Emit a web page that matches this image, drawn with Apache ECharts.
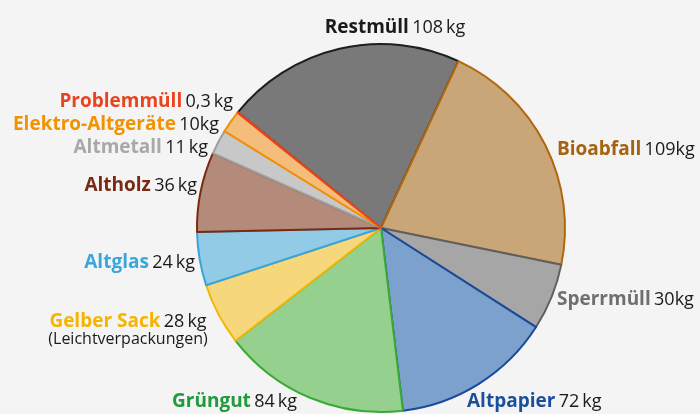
<!DOCTYPE html>
<html lang="de">
<head>
    <meta charset="UTF-8">
    <script type="text/javascript" src="https://cdn.jsdelivr.net/npm/echarts@6/dist/echarts.min.js"></script>
    <title>Abfallmengen</title>
    <style>
        html, body { margin: 0; padding: 0; background: #f4f4f4; }
        #chart { width: 700px; height: 414px; }
    </style>
</head>
<body>
<div id="chart"></div>
<script>
    // Abfallarten im Uhrzeigersinn, ab Restmüll
    var names = ['Restmüll', 'Bioabfall', 'Sperrmüll', 'Altpapier', 'Grüngut', 'Gelber Sack', 'Altglas',
        'Altholz', 'Altmetall', 'Elektro-Altgeräte', 'Problemmüll'];
    var values = [108, 109, 30, 72, 84, 28, 24, 36, 11, 10, 0.3];
    var valueLabels = ['108\u2009kg', '109kg', '30kg', '72\u2009kg', '84\u2009kg', '28\u2009kg', '24\u2009kg',
        '36\u2009kg', '11\u2009kg', '10kg', '0,3\u2009kg'];

    var fillColors = ['#797979', '#c9a677', '#a6a6a6', '#7ba1cc', '#95d08f', '#f7d77c', '#92cbe6',
        '#b48a7b', '#c8c8c8', '#f5bd7c', '#e8441f'];
    var borderColors = ['#1e1e1e', '#b0670f', '#5f5f5f', '#18499a', '#3aaa35', '#f2b705', '#3aa3d9',
        '#7a2a10', '#a0a0a0', '#f39200', '#e8441f'];
    var textColors = ['#1a1a1a', '#a5620f', '#6f6f6f', '#1a4f9c', '#1f9a3c', '#f5b400', '#3aa6dc',
        '#7a2a12', '#a8a8a8', '#f39200', '#e8441f'];

    // Lage der Beschriftungen: [x, y, Ausrichtung]
    var labelPos = [
        [395, 28, 'center'], [557, 150, 'left'], [557, 300, 'left'], [467, 402, 'left'], [297, 402, 'right'],
        [128, 330, 'center'], [195, 263, 'right'], [197, 186, 'right'], [208, 148, 'right'],
        [219, 125, 'right'], [233, 102, 'right']
    ];

    var rich = {
        n: {fontFamily: 'Open Sans', fontWeight: 'bold', fontSize: 19},
        v: {fontFamily: 'Open Sans', fontSize: 18, color: '#1a1a1a'},
        s: {fontFamily: 'Open Sans', fontSize: 16, color: '#1a1a1a', align: 'center', padding: [0, 0, 0, 0]}
    };

    var data = [];
    for (var i = 0; i < names.length; i++) {
        var r = JSON.parse(JSON.stringify(rich));
        r.n.color = textColors[i];
        data.push({
            name: names[i],
            value: values[i],
            itemStyle: {color: fillColors[i], borderColor: borderColors[i], borderWidth: 2},
            label: {rich: r}
        });
    }

    var mCharts = echarts.init(document.getElementById('chart'));
    var option = {
        backgroundColor: '#f4f4f4',
        animation: false,
        series: [{
            type: 'pie',
            center: [381, 228],
            radius: 184,
            startAngle: 141,
            clockwise: true,
            data: data,
            label: {
                show: true,
                position: 'outside',
                overflow: 'none',
                formatter: function (p) {
                    var s = '{n|' + p.name + '} {v|' + valueLabels[p.dataIndex] + '}';
                    if (p.name === 'Gelber Sack') s += '\n{s|(Leichtverpackungen)}';
                    return s;
                }
            },
            labelLine: {show: false},
            labelLayout: function (p) {
                var lp = labelPos[p.dataIndex];
                return {x: lp[0], y: lp[1], align: lp[2], verticalAlign: 'middle'};
            }
        }]
    };
    mCharts.setOption(option);
</script>
</body>
</html>
